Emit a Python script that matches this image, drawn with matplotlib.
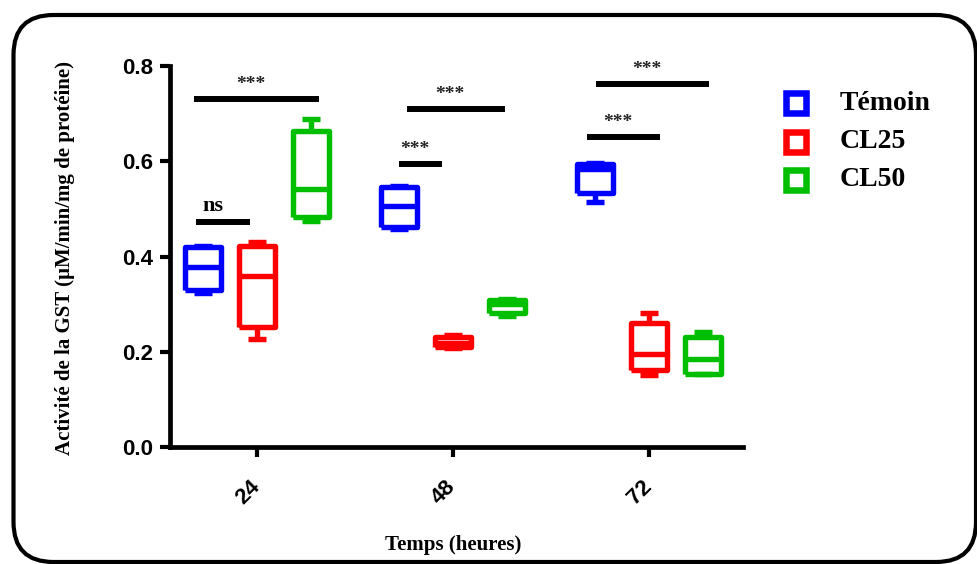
import matplotlib
matplotlib.use("Agg")
import matplotlib.pyplot as plt
import matplotlib.transforms as mtransforms
from matplotlib.lines import Line2D
from matplotlib.patches import FancyBboxPatch

# data (GST activity)
groups = ["24", "48", "72"]
series = ["Témoin", "CL25", "CL50"]
colors = ["#0000FF", "#FF0000", "#00BF00"]

# per series: one value per time point
whislo = {"Témoin": [0.323, 0.458, 0.514],
          "CL25": [0.227, 0.208, 0.151],
          "CL50": [0.475, 0.276, 0.153]}
q1 = {"Témoin": [0.330, 0.461, 0.533],
      "CL25": [0.251, 0.209, 0.162],
      "CL50": [0.483, 0.281, 0.154]}
med = {"Témoin": [0.379, 0.506, 0.583],
       "CL25": [0.360, 0.218, 0.196],
       "CL50": [0.542, 0.300, 0.184]}
q3 = {"Témoin": [0.419, 0.546, 0.594],
      "CL25": [0.423, 0.232, 0.261],
      "CL50": [0.664, 0.308, 0.232]}
whishi = {"Témoin": [0.423, 0.548, 0.596],
          "CL25": [0.431, 0.236, 0.282],
          "CL50": [0.689, 0.310, 0.242]}

# significance bars: x start, x end, height, label
sig_x0 = [-0.321, -0.311, 0.724, 0.765, 1.684, 1.730]
sig_x1 = [0.316, -0.036, 0.944, 1.265, 2.056, 2.306]
sig_y = [0.731, 0.473, 0.595, 0.710, 0.652, 0.762]
sig_lab = ["***", "ns", "***", "***", "***", "***"]

serif = ["Liberation Serif", "DejaVu Serif"]
sans = ["Liberation Sans", "DejaVu Sans"]

fig = plt.figure(figsize=(9.78, 5.64), dpi=100)
ax = fig.add_axes([0.1738, 0.2074, 0.586, 0.6755])

offset = 0.2755
for k, s in enumerate(series):
    stats = []
    for i in range(len(groups)):
        stats.append(dict(whislo=whislo[s][i], q1=q1[s][i], med=med[s][i],
                          q3=q3[s][i], whishi=whishi[s][i], fliers=[]))
    pos = [i + (k - 1) * offset for i in range(len(groups))]
    lp = dict(color=colors[k], linewidth=3.9, solid_capstyle="butt")
    ax.bxp(stats, positions=pos, widths=0.184, capwidths=0.09,
           showfliers=False, boxprops=lp, whiskerprops=lp, capprops=lp,
           medianprops=lp, manage_ticks=False)

for x0, x1, y, lab in zip(sig_x0, sig_x1, sig_y, sig_lab):
    ax.plot([x0, x1], [y, y], color="black", linewidth=4.3,
            solid_capstyle="butt")
    xm = (x0 + x1) / 2 - 0.03
    if lab == "ns":
        ax.text(xm - 0.02, y + 0.012, lab, ha="center", va="bottom",
                family=serif, fontweight="bold", fontsize=16)
    else:
        ax.text(xm, y + 0.012, lab, ha="center", va="bottom",
                family=serif, fontweight="bold", fontsize=14, color="#222222")

ax.set_xlim(-0.444, 2.480)
ax.set_ylim(0, 0.8)
ax.set_yticks([0.0, 0.2, 0.4, 0.6, 0.8])
ax.set_yticklabels(["0.0", "0.2", "0.4", "0.6", "0.8"])
ax.set_xticks(range(len(groups)))
ax.set_xticklabels(groups, rotation=45, ha="right")
for lab in ax.get_yticklabels() + ax.get_xticklabels():
    lab.set_family(sans)
    lab.set_fontweight("bold")
    lab.set_fontsize(16)
ax.tick_params(axis="both", width=3, length=7, direction="out")
ax.tick_params(axis="x", pad=14)
ax.tick_params(axis="y", pad=5)
# nudge the rotated labels a little to the right
shift = mtransforms.ScaledTranslation(7 / 100, 0, fig.dpi_scale_trans)
for lab in ax.get_xticklabels():
    lab.set_transform(lab.get_transform() + shift)
for sp in ["top", "right"]:
    ax.spines[sp].set_visible(False)
for sp in ["left", "bottom"]:
    ax.spines[sp].set_linewidth(3.4)

fig.text(453 / 978, 1 - 545 / 564, "Temps (heures)", ha="center", va="center",
         family=serif, fontweight="bold", fontsize=15)
fig.text(65 / 978, 1 - 258 / 564, "Activité de la GST (µM/min/mg de protéine)",
         rotation=90, ha="center", va="center", family=serif,
         fontweight="bold", fontsize=15)

# legend placed by hand
leg_y = [103, 142, 180]
for c, name, yy in zip(colors, series, leg_y):
    fig.add_artist(Line2D([796 / 978], [1 - yy / 564], transform=fig.transFigure,
                          linestyle="none", marker="s", markersize=14,
                          markerfacecolor="white", markeredgecolor=c,
                          markeredgewidth=4.7))
    fig.text(840 / 978, 1 - yy / 564, name, ha="left", va="center",
             family=serif, fontweight="bold", fontsize=20)

# rounded frame around the chart
frame = FancyBboxPatch((0.135, 0.02), 9.625, 5.47,
                       boxstyle="round,pad=0,rounding_size=0.4",
                       transform=fig.dpi_scale_trans, fill=False,
                       edgecolor="black", linewidth=3)
fig.patches.append(frame)

fig.savefig("out.png", dpi=100)
